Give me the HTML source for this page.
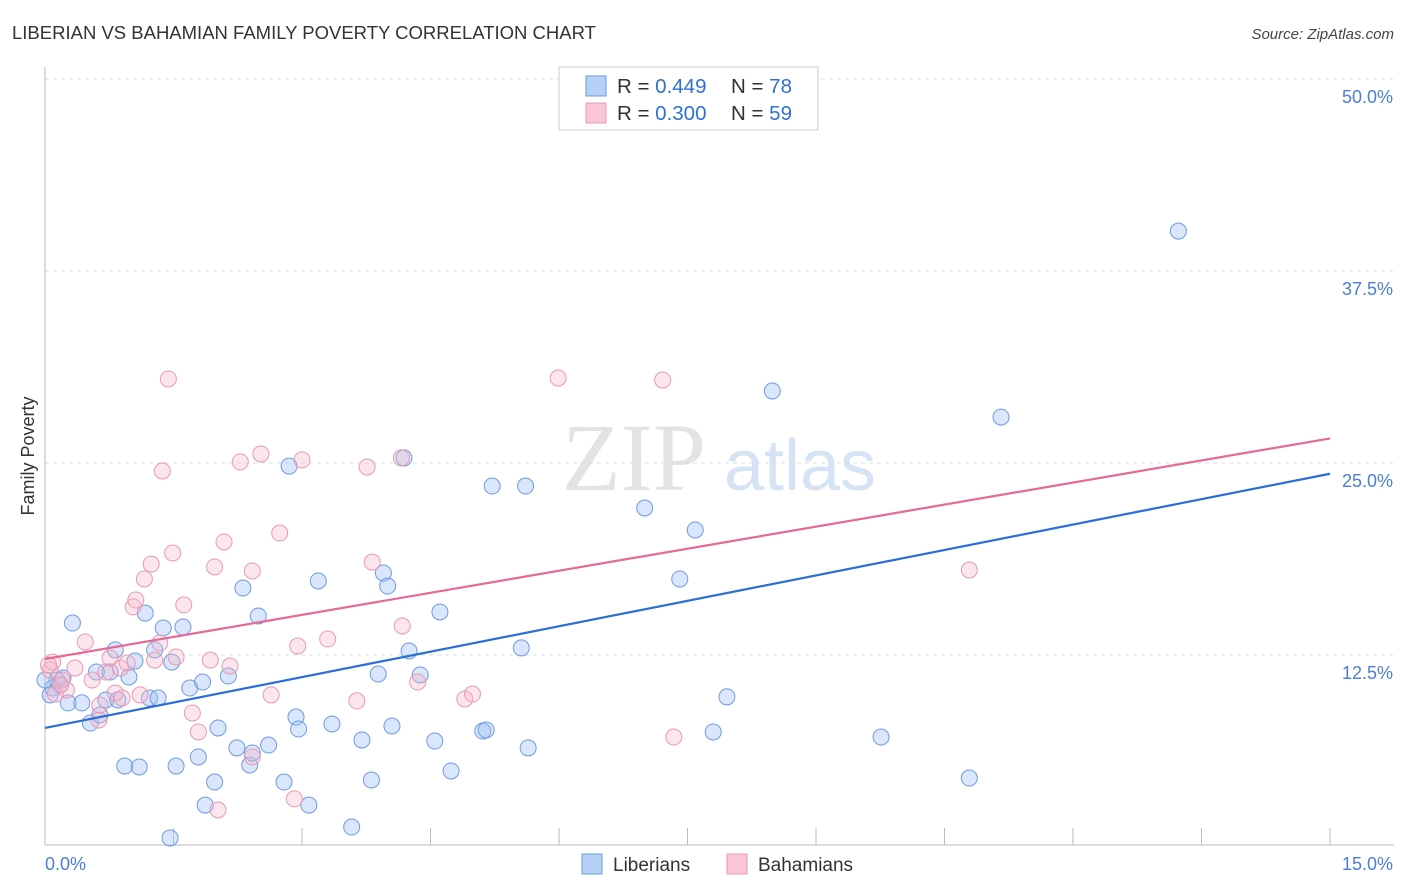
<!DOCTYPE html>
<html><head><meta charset="utf-8"><style>
body{margin:0;background:#fff;font-family:"Liberation Sans",sans-serif;}
#wrap{position:relative;width:1406px;height:892px;overflow:hidden;}
</style></head><body>
<div id="wrap">
<svg id="chart" width="1406" height="892" xmlns="http://www.w3.org/2000/svg">
<text x="12" y="39" font-size="18.5" fill="#333">LIBERIAN VS BAHAMIAN FAMILY POVERTY CORRELATION CHART</text>
<text x="1394" y="39" font-size="15" fill="#444" font-style="italic" text-anchor="end">Source: ZipAtlas.com</text>
<text x="634" y="490" font-size="96" fill="#e3e3e3" font-family="Liberation Serif,serif" text-anchor="middle">ZIP</text>
<text x="800" y="490" font-size="72" fill="#d5e3f5" text-anchor="middle">atlas</text>
<text x="34" y="456" font-size="18" fill="#333" text-anchor="middle" transform="rotate(-90 34 456)">Family Poverty</text>
<g id="grid"></g><g id="axes"></g><g id="pts"></g><g id="lines"></g>
<g>
<rect x="559" y="67" width="259" height="63" fill="#fff" stroke="#ccc"/>
<rect x="586" y="76" width="20" height="20" fill="#b7d0f5" stroke="#6e9be0"/>
<rect x="586" y="103" width="20" height="20" fill="#f8c6d6" stroke="#e899b4"/>
<text x="617" y="93" font-size="20.5" fill="#333">R = <tspan fill="#2f6fd6">0.449</tspan></text>
<text x="731" y="93" font-size="20.5" fill="#333">N = <tspan fill="#2f6fd6">78</tspan></text>
<text x="617" y="120" font-size="20.5" fill="#333">R = <tspan fill="#2f6fd6">0.300</tspan></text>
<text x="731" y="120" font-size="20.5" fill="#333">N = <tspan fill="#2f6fd6">59</tspan></text>
</g>
<g>
<rect x="582" y="854" width="20" height="20" fill="#b7d0f5" stroke="#6e9be0"/>
<text x="613" y="871" font-size="19" fill="#333">Liberians</text>
<rect x="727" y="854" width="20" height="20" fill="#f8c6d6" stroke="#e899b4"/>
<text x="758" y="871" font-size="19" fill="#333">Bahamians</text>
</g>
</svg></div>
<script>
const yTicks=[12.5,25,37.5,50];
const yTickLabels=["12.5%","25.0%","37.5%","50.0%"];
const xTickCount=10;
const blueX=[0.09,0.18,0.32,0.27,0.43,0.53,0.60,0.64,0.71,0.76,0.82,0.85,0.93,0.98,1.05,1.10,1.17,1.22,1.28,1.32,1.38,1.48,1.53,1.46,1.61,1.69,1.79,1.84,1.87,1.98,2.02,2.14,2.24,2.31,2.39,2.42,2.49,2.61,2.79,2.85,2.93,2.96,3.08,3.19,3.35,3.58,3.70,3.81,3.89,3.95,4.00,4.05,4.19,4.25,4.38,4.55,4.61,4.74,5.11,5.15,5.22,5.56,5.61,5.64,7.00,7.41,7.59,7.80,7.96,8.49,9.76,10.79,11.16,13.23,0.06,0.14,0.21,0.0];
const blueY=[10.35,10.55,14.58,9.38,9.38,8.07,11.39,8.59,9.57,11.39,12.83,9.57,5.27,11.07,12.11,5.21,15.23,9.70,12.83,9.70,14.26,12.04,5.27,0.59,14.32,10.35,5.86,10.74,2.73,4.23,7.75,11.13,6.45,16.86,5.34,6.12,15.04,6.64,4.23,24.80,8.46,7.68,2.73,17.32,8.01,1.30,6.97,4.36,11.26,17.84,16.99,7.88,25.33,12.76,11.20,6.90,15.30,4.95,7.55,7.62,23.50,12.96,23.50,6.45,22.07,17.45,20.64,7.49,9.77,29.69,7.16,4.49,27.99,40.10,9.90,10.87,11.00,10.87];
const pinkX=[0.06,0.12,0.20,0.25,0.35,0.47,0.55,0.63,0.71,0.76,0.82,0.88,0.90,0.96,1.03,1.06,1.16,1.24,1.28,1.34,1.37,1.44,1.49,1.53,1.62,1.72,1.79,1.93,1.98,2.02,2.09,2.16,2.28,2.42,2.42,2.52,2.64,2.74,2.91,2.95,3.00,3.30,3.64,3.76,3.82,4.16,4.17,4.35,4.90,4.99,5.99,7.21,7.34,10.79,0.09,0.04,0.18,0.64,1.11];
const pinkY=[11.52,9.96,10.87,10.22,11.65,13.35,10.87,8.27,11.39,12.30,10.03,11.65,9.70,11.98,15.63,16.08,17.45,18.42,12.17,13.28,24.48,30.47,19.14,12.37,15.76,8.72,7.49,12.17,18.23,2.41,19.86,11.78,25.07,17.97,5.86,25.59,9.90,20.44,3.13,13.09,25.20,13.54,9.51,24.74,18.55,25.33,14.39,10.74,9.64,9.96,30.53,30.40,7.16,18.03,12.04,11.85,10.55,9.24,9.90];
const blueLine=[7.75,24.3];
const pinkLine=[12.24,26.6];
const xMax=15;
const X0=45,X1=1330,Y0=847,PXPER=15.36;
function sx(v){return X0+(v/xMax)*(X1-X0);}
function sy(v){return Y0-v*PXPER;}
const NS="http://www.w3.org/2000/svg";
function mk(tag,attrs,parent){const e=document.createElementNS(NS,tag);for(const k in attrs)e.setAttribute(k,attrs[k]);parent.appendChild(e);return e;}
const grid=document.getElementById('grid'),axes=document.getElementById('axes'),pts=document.getElementById('pts'),lines=document.getElementById('lines');
yTicks.forEach((t,i)=>{
 const l=mk('line',{x1:45,x2:1394,y1:sy(t),y2:sy(t),stroke:'#ddd','stroke-dasharray':'4,4'},grid);
 
 
 const tx=mk('text',{x:1393,y:sy(t)+24,'font-size':18,fill:'#4a7fd4','text-anchor':'end'},axes);
 tx.textContent=yTickLabels[i];
 
 
});
const ya=mk('line',{x1:45,x2:45,y1:67,y2:845,stroke:'#bbb'},axes);


const xa=mk('line',{x1:45,x2:1394,y1:845,y2:845,stroke:'#bbb'},axes);


for(let i=0;i<=xTickCount;i++){
 const v=xMax*i/xTickCount;
 const t=mk('line',{x1:sx(v),x2:sx(v),y1:828,y2:845,stroke:'#bbb'},axes);
 
 
}
const xl0=mk('text',{x:45,y:870,'font-size':18,fill:'#4a7fd4'},axes);xl0.textContent='0.0%';


const xl1=mk('text',{x:1393,y:870,'font-size':18,fill:'#4a7fd4','text-anchor':'end'},axes);xl1.textContent='15.0%';


blueX.forEach((x,i)=>{
 const c=mk('circle',{cx:sx(x),cy:sy(blueY[i]),r:8,fill:'rgba(160,192,245,0.4)',stroke:'#6e9be0','stroke-width':1},pts);
 
 
});
pinkX.forEach((x,i)=>{
 const c=mk('circle',{cx:sx(x),cy:sy(pinkY[i]),r:8,fill:'rgba(246,182,204,0.35)',stroke:'#e899b4','stroke-width':1},pts);
 
 
});
const bl=mk('line',{x1:sx(0),y1:sy(blueLine[0]),x2:sx(xMax),y2:sy(blueLine[1]),stroke:'#2a6fd8','stroke-width':2.2},lines);


const pl=mk('line',{x1:sx(0),y1:sy(pinkLine[0]),x2:sx(xMax),y2:sy(pinkLine[1]),stroke:'#e56a97','stroke-width':2.2},lines);


</script>
</body></html>
